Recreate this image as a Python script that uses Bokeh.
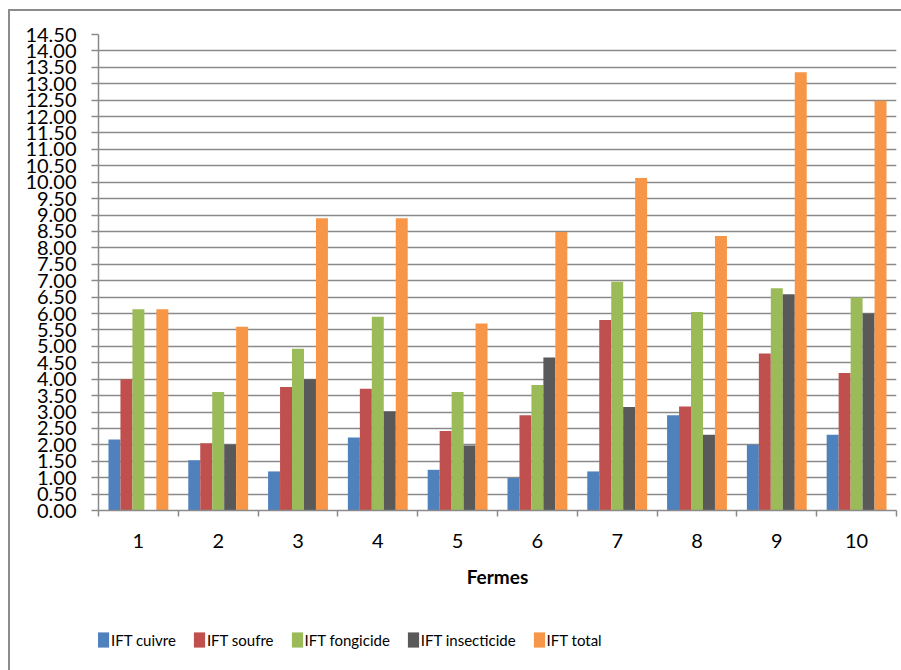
from bokeh.plotting import figure
from bokeh.layouts import column
from bokeh.models import (Range1d, LinearAxis, FixedTicker, Legend, LegendItem,
                          NumeralTickFormatter, Grid)
from bokeh.embed import file_html
from bokeh.resources import INLINE

farms = ["1", "2", "3", "4", "5", "6", "7", "8", "9", "10"]
series_names = ["IFT cuivre", "IFT soufre", "IFT fongicide", "IFT insecticide", "IFT total"]
ift_cuivre = [2.16, 1.53, 1.19, 2.22, 1.24, 0.99, 1.19, 2.90, 2.00, 2.31]
ift_soufre = [4.00, 2.05, 3.76, 3.71, 2.42, 2.90, 5.80, 3.17, 4.78, 4.19]
ift_fongicide = [6.13, 3.61, 4.93, 5.90, 3.61, 3.82, 6.97, 6.05, 6.77, 6.49]
ift_insecticide = [0.00, 2.01, 4.00, 3.02, 1.98, 4.66, 3.15, 2.31, 6.59, 6.00]
ift_total = [6.13, 5.60, 8.90, 8.90, 5.70, 8.48, 10.13, 8.36, 13.35, 12.48]
y_ticks = [i * 0.5 for i in range(30)]
x_title = "Fermes"

colors = ["#4F81BD", "#C0504D", "#9BBB59", "#595959", "#F79646"]
series = [ift_cuivre, ift_soufre, ift_fongicide, ift_insecticide, ift_total]

FONT = "Lato"
GRID = "#8a8a8a"

# canvas origin is shifted by (10, 11) because of the outer frame border + margin
p = figure(width=891, height=589, output_backend="svg", toolbar_location=None,
           x_range=Range1d(0, len(farms)), y_range=Range1d(0, 14.5),
           x_axis_location=None, y_axis_location=None,
           min_border_left=88, min_border_right=5, min_border_top=23, min_border_bottom=90)
p.outline_line_color = None
p.background_fill_color = "white"
p.border_fill_color = "white"

centers = [i + 0.5 for i in range(len(farms))]
bar_w = 0.15
offsets = [-0.3, -0.15, 0.0, 0.15, 0.3]
for vals, col, off in zip(series, colors, offsets):
    p.vbar(x=[c + off for c in centers], top=vals, width=bar_w, bottom=0,
           fill_color=col, line_color=None)

# y axis
yax = LinearAxis(ticker=FixedTicker(ticks=y_ticks),
                 formatter=NumeralTickFormatter(format="0.00"))
yax.axis_line_color = GRID
yax.axis_line_width = 1.5
yax.major_tick_line_color = GRID
yax.major_tick_line_width = 1.5
yax.major_tick_out = 7
yax.major_tick_in = 0
yax.minor_tick_line_color = None
yax.major_label_standoff = 15
yax.major_label_text_font = FONT
yax.major_label_text_font_size = "20px"
yax.major_label_text_color = "black"
p.add_layout(yax, "left")

# x axis with boundary ticks
xax1 = LinearAxis(ticker=FixedTicker(ticks=list(range(len(farms) + 1))))
xax1.axis_line_color = GRID
xax1.axis_line_width = 1.5
xax1.major_tick_line_color = GRID
xax1.major_tick_line_width = 1.5
xax1.major_tick_out = 6
xax1.major_tick_in = 0
xax1.minor_tick_line_color = None
xax1.major_label_text_font_size = "1px"
xax1.major_label_text_color = None
xax1.major_label_standoff = 0
p.add_layout(xax1, "below")

# x axis with farm labels at centers
xax2 = LinearAxis(ticker=FixedTicker(ticks=centers),
                  major_label_overrides={c: f for c, f in zip(centers, farms)})
xax2.axis_line_color = None
xax2.major_tick_line_color = None
xax2.minor_tick_line_color = None
xax2.major_label_standoff = 11
xax2.major_label_text_font = FONT
xax2.major_label_text_font_size = "20px"
xax2.major_label_text_color = "black"
xax2.axis_label = x_title
xax2.axis_label_text_font = FONT
xax2.axis_label_text_font_size = "19px"
xax2.axis_label_text_font_style = "bold"
xax2.axis_label_text_color = "black"
xax2.axis_label_standoff = 14
p.add_layout(xax2, "below")

p.xgrid.visible = False
p.ygrid.visible = False
g = Grid(dimension=1, ticker=FixedTicker(ticks=y_ticks), grid_line_color=GRID, grid_line_width=1.5)
p.add_layout(g)

# legend strip below the chart (proxy renderers are zero-height bars)
p2 = figure(width=891, height=70, output_backend="svg", toolbar_location=None,
            x_range=Range1d(0, 1), y_range=Range1d(0, 1),
            x_axis_location=None, y_axis_location=None,
            min_border_left=0, min_border_right=0, min_border_top=0, min_border_bottom=0)
p2.outline_line_color = None
p2.xgrid.visible = False
p2.ygrid.visible = False
p2.background_fill_color = "white"
p2.border_fill_color = "white"
legend_renderers = [p2.vbar(x=[0], top=[0], bottom=0, width=0.0, fill_color=col, line_color=None)
                    for col in colors]

legend = Legend(items=[LegendItem(label=n, renderers=[r]) for n, r in zip(series_names, legend_renderers)],
                orientation="horizontal", location=(-2, 21))
legend.padding = 0
legend.margin = 0
legend.spacing = 16
legend.glyph_width = 14
legend.glyph_height = 19
legend.label_standoff = 1
legend.label_height = 19
legend.label_text_font = FONT
legend.label_text_font_size = "15px"
legend.label_text_color = "black"
legend.border_line_color = None
legend.background_fill_alpha = 0
p2.add_layout(legend, "center")

root = column(p, p2, spacing=0)
root.margin = (9, 0, 0, 8)
root.styles = {"border-left": "2px solid #8c8c8c", "border-top": "2px solid #8c8c8c"}

open("out.html", "w").write(file_html(root, INLINE))
